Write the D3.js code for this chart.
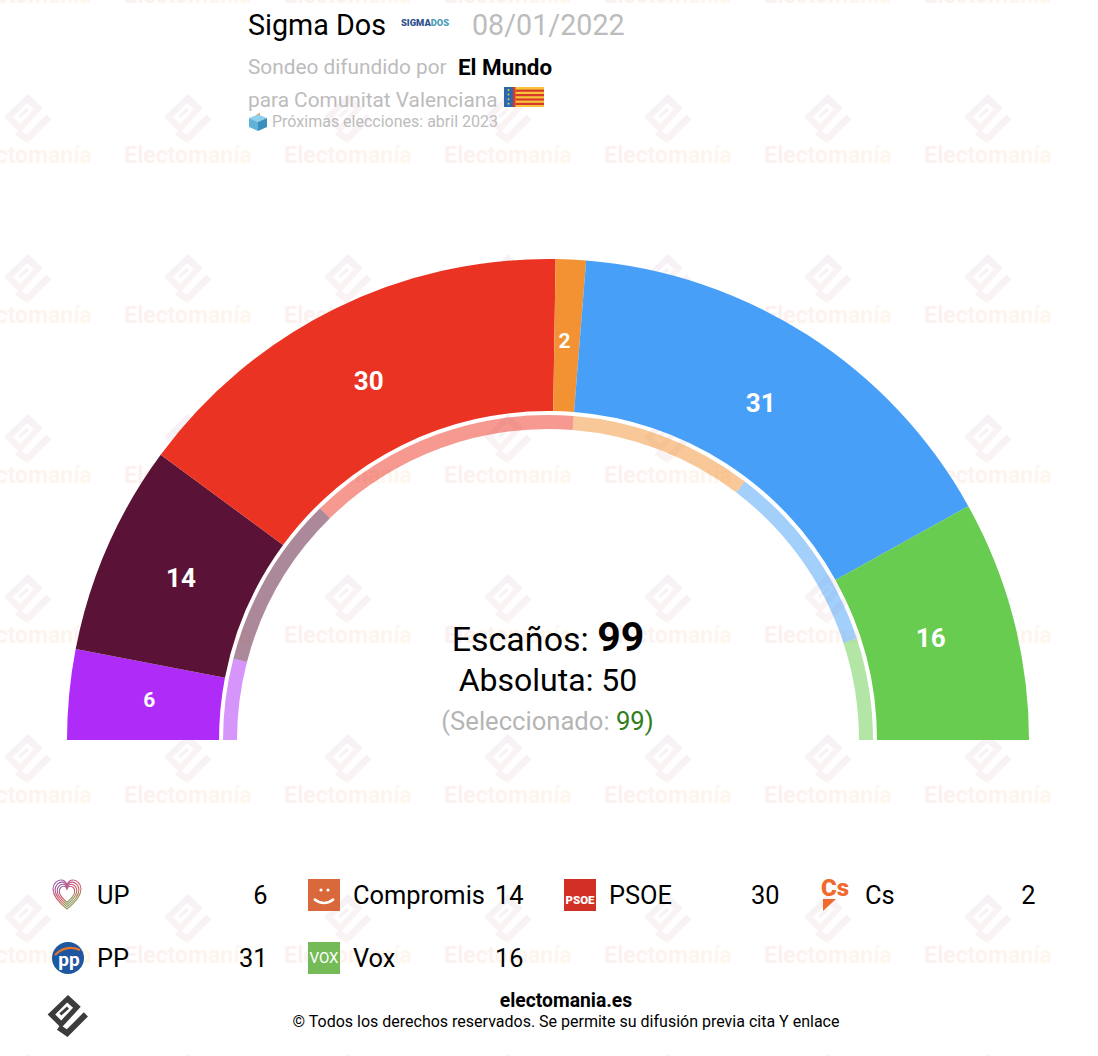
<!DOCTYPE html>
<html>
<head>
<meta charset="utf-8">
<title>Sigma Dos - Comunitat Valenciana</title>
<script src="https://cdn.jsdelivr.net/npm/d3@7"></script>
<style>
	body { margin: 0; background: #fff; }
	svg { display: block; }
	text { font-family: Roboto, sans-serif; }
</style>
</head>
<body>
<svg id="chart" width="1098" height="1056"></svg>
<script>
// Poll data
const parties = ["UP", "Compromis", "PSOE", "Cs", "PP", "Vox"];
const seats = [6, 14, 30, 2, 31, 16];
// Inner ring: seats in the previous election
const previousSeats = [8, 17, 27, 18, 19, 10];
const partyColors = ["#ae2bf8", "#5a1336", "#eb3323", "#f29233", "#489ff8", "#67cc4f"];

const totalSeats = 99;
const majority = 50;
const selected = 99;

const svg = d3.select("#chart");
const defs = svg.append("defs");

// Watermark gradients
const logoGrad = defs.append("linearGradient").attr("id", "wmLogo")
	.attr("x1", 0).attr("y1", 0).attr("x2", 0.6).attr("y2", 1);
logoGrad.append("stop").attr("offset", "0%").attr("stop-color", "#f4f0f8");
logoGrad.append("stop").attr("offset", "100%").attr("stop-color", "#fcf4f2");

const textGrad = defs.append("linearGradient").attr("id", "wmText");
textGrad.append("stop").attr("offset", "0%").attr("stop-color", "#fbf0f0");
textGrad.append("stop").attr("offset", "100%").attr("stop-color", "#fef7ec");

const heartGrad = defs.append("linearGradient").attr("id", "upHeart")
	.attr("x1", 0).attr("y1", 0).attr("x2", 0.7).attr("y2", 1);
heartGrad.append("stop").attr("offset", "0%").attr("stop-color", "#8e5fb5");
heartGrad.append("stop").attr("offset", "55%").attr("stop-color", "#d8505f");
heartGrad.append("stop").attr("offset", "100%").attr("stop-color", "#7fb565");

// The electomania mark, drawn around its own centre
function drawMark(g, fill) {
	g.append("path")
		.attr("fill", fill)
		.attr("fill-rule", "evenodd")
		.attr("d", "M0,-26 L15,-12 L-8,13 L-24,-3 Z M-1,-17 L-15,-3 L-8,4 L6,-11 Z");
	g.append("path")
		.attr("fill", "none")
		.attr("stroke", fill)
		.attr("stroke-width", 3.5)
		.attr("d", "M-9,-3 L0,-11");
	g.append("path")
		.attr("fill", "none")
		.attr("stroke", fill)
		.attr("stroke-width", 7)
		.attr("d", "M-11,12 L-1,19 L21,-3");
}

// Watermark tiles
const wmColumns = d3.range(-1, 7);
const wmRows = d3.range(-1, 7);
const wmScaleX = d3.scaleLinear().domain([0, 1]).range([28, 188]);
const wmScaleY = d3.scaleLinear().domain([0, 1]).range([120, 280]);
const wm = svg.append("g").attr("class", "watermark");
wmRows.forEach((row) => {
	wmColumns.forEach((col) => {
		const tile = wm.append("g")
			.attr("transform", `translate(${wmScaleX(col)},${wmScaleY(row)})`);
		drawMark(tile, "url(#wmLogo)");
	});
});
wmRows.forEach((row) => {
	wmColumns.forEach((col) => {
		wm.append("text")
			.attr("x", wmScaleX(col))
			.attr("y", wmScaleY(row) + 43)
			.attr("text-anchor", "middle")
			.attr("font-size", 23)
			.attr("font-weight", 700)
			.attr("fill", "url(#wmText)")
			.text("Electomanía");
	});
});

// Hemicycle
const cx = 548, cy = 740;
const outerR = 481, innerR = 329;
const ringOuterR = 325, ringInnerR = 311;
const labelR = 398;

const angle = d3.scaleLinear()
	.domain([0, totalSeats])
	.range([-Math.PI / 2, Math.PI / 2]);

function cumulate(values) {
	let sum = 0;
	return values.map((v, i) => {
		const d = { i, value: v, start: sum, end: sum + v };
		sum += v;
		return d;
	});
}

const outerArc = d3.arc()
	.innerRadius(innerR)
	.outerRadius(outerR)
	.startAngle((d) => angle(d.start))
	.endAngle((d) => angle(d.end));

const ringArc = d3.arc()
	.innerRadius(ringInnerR)
	.outerRadius(ringOuterR)
	.startAngle((d) => angle(d.start))
	.endAngle((d) => angle(d.end));

const labelArc = d3.arc()
	.innerRadius(labelR)
	.outerRadius(labelR)
	.startAngle((d) => angle(d.start))
	.endAngle((d) => angle(d.end));

const hemi = svg.append("g").attr("transform", `translate(${cx},${cy})`);

hemi.selectAll(".ring")
	.data(cumulate(previousSeats))
	.enter()
	.append("path")
	.attr("class", "ring")
	.attr("d", ringArc)
	.attr("fill", (d) => partyColors[d.i])
	.attr("fill-opacity", 0.5);

hemi.selectAll(".seat")
	.data(cumulate(seats))
	.enter()
	.append("path")
	.attr("class", "seat")
	.attr("d", outerArc)
	.attr("fill", (d) => partyColors[d.i]);

hemi.selectAll(".seat-label")
	.data(cumulate(seats))
	.enter()
	.append("text")
	.attr("class", "seat-label")
	.attr("transform", (d) => `translate(${labelArc.centroid(d)})`)
	.attr("text-anchor", "middle")
	.attr("dx", -2.5)
	.attr("dy", "0.25em")
	.attr("fill", "#fff")
	.attr("font-weight", 700)
	.attr("font-size", (d) => (d.value < 10 ? 21 : 26))
	.text((d) => d.value);

// Centre text
const escanos = svg.append("text")
	.attr("x", cx).attr("y", 651)
	.attr("text-anchor", "middle")
	.attr("font-size", 34);
escanos.append("tspan").text("Escaños: ");
escanos.append("tspan").attr("font-size", 41).attr("font-weight", 700).text(totalSeats);

svg.append("text")
	.attr("x", cx).attr("y", 691)
	.attr("text-anchor", "middle")
	.attr("font-size", 32)
	.text(`Absoluta: ${majority}`);

const sel = svg.append("text")
	.attr("x", cx - 0.5).attr("y", 730)
	.attr("text-anchor", "middle")
	.attr("font-size", 25.6)
	.attr("fill", "#b5b5b5");
sel.append("tspan").text("(Seleccionado: ");
sel.append("tspan").attr("fill", "#2f7d1c").text(selected);
sel.append("tspan").attr("fill", "#2f7d1c").text(")");

// Header
const grey = "#bcbcbc";
function headerText(x, y, size, str, fill, weight) {
	return svg.append("text")
		.attr("x", x).attr("y", y)
		.attr("font-size", size)
		.attr("fill", fill)
		.attr("font-weight", weight || 400)
		.text(str);
}
headerText(248, 35, 28.7, "Sigma Dos", "#000");
headerText(472, 35, 28.7, "08/01/2022", grey);
headerText(248, 74, 20.8, "Sondeo difundido por", grey);
headerText(458, 75, 22.4, "El Mundo", "#000", 700);
headerText(248, 107, 20.8, "para Comunitat Valenciana", grey);
headerText(272, 127, 16, "Próximas elecciones: abril 2023", grey);

// SIGMADOS logo
const sigma = svg.append("text")
	.attr("x", 401).attr("y", 26)
	.attr("font-size", 9.4)
	.attr("font-weight", 900)
	.attr("fill", "#2d4f8e");
sigma.append("tspan").text("SIGMA");
sigma.append("tspan").attr("fill", "#4d9bb8").text("DOS");

// Flag of the Comunitat Valenciana
const flag = svg.append("g").attr("transform", "translate(504,87)");
flag.append("rect").attr("width", 40).attr("height", 20).attr("fill", "#f6c53a");
flag.append("rect").attr("width", 9).attr("height", 20).attr("fill", "#2c68ad");
flag.append("rect").attr("x", 9).attr("width", 2.5).attr("height", 20).attr("fill", "#d8392b");
d3.range(4).forEach((k) => {
	flag.append("rect")
		.attr("x", 11.5).attr("y", 2.6 + k * 4.4)
		.attr("width", 28.5).attr("height", 2.2)
		.attr("fill", "#d8392b");
	flag.append("circle")
		.attr("cx", 4.5).attr("cy", 3 + k * 4.6).attr("r", 1)
		.attr("fill", "#f6c53a");
});

// Ballot box emoji
const box = svg.append("g").attr("transform", "translate(249,113)");
box.append("path").attr("d", "M7,2 L11,0 L11,6 L7,6 Z").attr("fill", "#f0923a");
box.append("path").attr("d", "M0,5 L9,1.5 L18,5 L9,9 Z").attr("fill", "#8fd0ea");
box.append("path").attr("d", "M0,5 L9,9 L9,18 L0,14 Z").attr("fill", "#5fb2d8");
box.append("path").attr("d", "M18,5 L9,9 L9,18 L18,14 Z").attr("fill", "#3a8fbc");

// Legend
const legendCols = [52, 308, 564, 820];
const legendRows = [879, 942];

const legendIcons = {
	UP(g) {
		const heart = "M15,30 C5,22 1,16 1,10 C1,5 5,1 9,1 C12,1 14,3 15,6 C16,3 18,1 21,1 C25,1 29,5 29,10 C29,16 25,22 15,30 Z";
		[1, 0.85, 0.7, 0.55].forEach((s) => {
			g.append("path")
				.attr("d", heart)
				.attr("fill", "none")
				.attr("stroke", "url(#upHeart)")
				.attr("stroke-width", 1.1 / s)
				.attr("transform", `translate(15,15) scale(${s}) translate(-15,-15)`);
		});
	},
	Compromis(g) {
		g.append("rect").attr("width", 32).attr("height", 32).attr("fill", "#d9683a");
		g.append("path").attr("d", "M6,20 Q16,28 26,20").attr("fill", "none")
			.attr("stroke", "#fff").attr("stroke-width", 2.4);
		g.append("circle").attr("cx", 13).attr("cy", 11).attr("r", 1.6).attr("fill", "#fff");
		g.append("circle").attr("cx", 20).attr("cy", 11).attr("r", 1.6).attr("fill", "#fff");
	},
	PSOE(g) {
		g.append("rect").attr("width", 32).attr("height", 32).attr("fill", "#d22f25");
		g.append("text").attr("x", 16).attr("y", 25)
			.attr("text-anchor", "middle").attr("font-size", 11.5)
			.attr("font-weight", 900).attr("fill", "#fff").text("PSOE");
	},
	Cs(g) {
		g.append("text").attr("x", 1).attr("y", 17)
			.attr("font-size", 24).attr("font-weight", 900)
			.attr("fill", "#ef6a2c").text("Cs");
		g.append("path").attr("d", "M3,20 L16,20 L3,32 Z").attr("fill", "#ef6a2c");
	},
	PP(g) {
		g.append("circle").attr("cx", 16).attr("cy", 16).attr("r", 16).attr("fill", "#1e56a0");
		g.append("path").attr("d", "M3,13 Q14,2 28,8").attr("fill", "none")
			.attr("stroke", "#e8742c").attr("stroke-width", 2);
		g.append("text").attr("x", 17).attr("y", 24)
			.attr("text-anchor", "middle").attr("font-size", 19)
			.attr("font-weight", 700).attr("fill", "#fff").text("pp");
	},
	Vox(g) {
		g.append("rect").attr("width", 32).attr("height", 32).attr("fill", "#74bb57");
		g.append("text").attr("x", 16).attr("y", 21)
			.attr("text-anchor", "middle").attr("font-size", 15)
			.attr("fill", "#fff").text("VOX");
	}
};

parties.forEach((party, i) => {
	const x = legendCols[i % 4];
	const y = legendRows[Math.floor(i / 4)];
	const g = svg.append("g").attr("transform", `translate(${x},${y})`);
	legendIcons[party](g);
	g.append("text").attr("x", 45).attr("y", 25).attr("font-size", 25.4).text(party);
	g.append("text").attr("x", 215.5).attr("y", 25)
		.attr("text-anchor", "end").attr("font-size", 25.4).text(seats[i]);
});

// Footer
svg.append("text")
	.attr("x", 566).attr("y", 1007)
	.attr("text-anchor", "middle")
	.attr("font-size", 19.3).attr("font-weight", 700)
	.text("electomania.es");
svg.append("text")
	.attr("x", 566).attr("y", 1027)
	.attr("text-anchor", "middle")
	.attr("font-size", 16)
	.text("© Todos los derechos reservados. Se permite su difusión previa cita Y enlace");

const footerMark = svg.append("g").attr("transform", "translate(68,1017) scale(0.85)");
drawMark(footerMark, "#3c3c3c");
</script>
</body>
</html>
